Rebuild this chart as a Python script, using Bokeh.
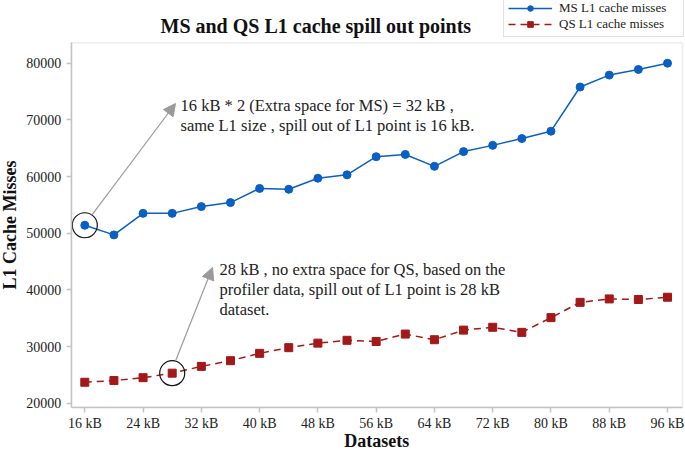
from bokeh.plotting import figure
from bokeh.models import Range1d, FixedTicker, Arrow, NormalHead, Label, BoxAnnotation
from bokeh.embed import file_html
from bokeh.resources import INLINE

# ---------------- data ----------------
datasets_kb = [16, 20, 24, 28, 32, 36, 40, 44, 48, 52, 56, 60, 64, 68, 72, 76, 80, 84, 88, 92, 96]
ms_misses = [51400, 49700, 53500, 53500, 54700, 55400, 57900, 57750, 59700, 60300, 63500, 63900,
             61800, 64400, 65500, 66700, 68000, 75800, 77900, 78900, 80000]
qs_misses = [23700, 24000, 24500, 25300, 26500, 27500, 28800, 29800, 30600, 31100, 30900, 32200,
             31200, 32900, 33400, 32500, 35100, 37800, 38400, 38300, 38700]
x_tick_values = [16, 24, 32, 40, 48, 56, 64, 72, 80, 88, 96]
x_tick_labels = ["16 kB", "24 kB", "32 kB", "40 kB", "48 kB", "56 kB", "64 kB", "72 kB", "80 kB", "88 kB", "96 kB"]
y_tick_values = [20000, 30000, 40000, 50000, 60000, 70000, 80000]

title_text = "MS and QS L1 cache spill out points"
x_label = "Datasets"
y_label = "L1 Cache Misses"
ms_name = "MS L1 cache misses"
qs_name = "QS L1 cache misses"
ms_spill_kb = 16
qs_spill_kb = 28
ms_note = ["16 kB * 2 (Extra space for MS) = 32 kB ,",
           "same L1 size , spill out of L1 point is 16 kB."]
qs_note = ["28 kB , no extra space for QS, based on the",
           "profiler data, spill out of L1 point is 28 kB",
           "dataset."]

# ---------------- layout helpers (pixel position -> data position) ----------------
SERIF = "Liberation Serif"
BLUE = "#0a5fc4"
RED = "#a31818"
GRAY = "#c4c4c4"
ARROW = "#9a9a9a"
TXT = "#222222"

W, H = 685, 452
KB_PX = 7.284        # pixels per kB
Y_PX = 176.47        # misses per pixel


def X(px):
    return 16 + (px - 84.3) / KB_PX


def Y(py):
    return 80000 - (py - 62.7) * Y_PX


box_x0, box_x1 = X(70.7), X(682)
box_y0, box_y1 = Y(406.7), Y(42.3)

p = figure(width=W, height=H, output_backend="svg", toolbar_location=None,
           x_range=Range1d(X(0), X(W)), y_range=Range1d(Y(H), Y(0)),
           min_border_left=0, min_border_right=0, min_border_top=0, min_border_bottom=0)
p.title.visible = False
p.xgrid.grid_line_color = None
p.ygrid.grid_line_color = None
p.outline_line_color = None

# axes drawn at the plot box edges
xa = p.xaxis[0]
ya = p.yaxis[0]
xa.fixed_location = box_y0
ya.fixed_location = box_x0
xa.bounds = (box_x0, box_x1)
ya.bounds = (box_y0, box_y1)
xa.ticker = FixedTicker(ticks=x_tick_values)
xa.major_label_overrides = {v: lab for v, lab in zip(x_tick_values, x_tick_labels)}
ya.ticker = FixedTicker(ticks=y_tick_values)
ya.axis_label = y_label
for ax in (xa, ya):
    ax.axis_line_color = GRAY
    ax.axis_line_width = 1.5
    ax.major_tick_line_color = GRAY
    ax.major_tick_line_width = 1.5
    ax.major_tick_in = 0
    ax.major_tick_out = 5
    ax.minor_tick_line_color = None
    ax.major_label_text_font = SERIF
    ax.major_label_text_font_size = "14px"
    ax.major_label_text_color = TXT
    ax.axis_label_text_font = SERIF
    ax.axis_label_text_font_size = "18px"
    ax.axis_label_text_font_style = "bold"
    ax.axis_label_text_color = "#111111"
xa.major_label_standoff = 4
ya.major_label_standoff = 5
ya.axis_label_standoff = 4

# x axis title (kept inside the canvas)
p.add_layout(Label(x=(box_x0 + box_x1) / 2, y=Y(440), text=x_label,
                   text_font=SERIF, text_font_size="18px", text_font_style="bold",
                   text_color="#111111", text_align="center", text_baseline="middle"))

# plot box outline
p.add_layout(BoxAnnotation(left=box_x0, right=box_x1, bottom=box_y0, top=box_y1,
                           fill_color=None, line_color=GRAY, line_width=1.5, level="underlay"))

# title
p.add_layout(Label(x=X(160), y=Y(25.5), text=title_text,
                   text_font=SERIF, text_font_size="20px", text_font_style="bold",
                   text_color="#111111", text_baseline="middle"))

# series
p.line(datasets_kb, ms_misses, line_color=BLUE, line_width=1.5, legend_label=ms_name)
p.scatter(datasets_kb, ms_misses, marker="circle", size=8, fill_color=BLUE, line_color=BLUE,
          legend_label=ms_name)
p.line(datasets_kb, qs_misses, line_color=RED, line_width=1.5, line_dash="7 5", legend_label=qs_name)
p.scatter(datasets_kb, qs_misses, marker="square", size=8, fill_color=RED, line_color=RED,
          legend_label=qs_name)

# highlighted spill points
ms_spill_y = ms_misses[datasets_kb.index(ms_spill_kb)]
qs_spill_y = qs_misses[datasets_kb.index(qs_spill_kb)]
p.scatter([ms_spill_kb], [ms_spill_y], marker="circle", size=25, fill_color=None,
          line_color="#111111", line_width=1.2)
p.scatter([qs_spill_kb], [qs_spill_y], marker="circle", size=25, fill_color=None,
          line_color="#111111", line_width=1.2)

# arrows
p.add_layout(Arrow(end=NormalHead(size=12, fill_color=ARROW, line_color=ARROW),
                   x_start=X(91.5), y_start=Y(214.4), x_end=X(175), y_end=Y(103),
                   line_color=ARROW, line_width=1.2))
p.add_layout(Arrow(end=NormalHead(size=12, fill_color=ARROW, line_color=ARROW),
                   x_start=X(175.4), y_start=Y(359.5), x_end=X(212), y_end=Y(267),
                   line_color=ARROW, line_width=1.2))

# notes
for i, line in enumerate(ms_note):
    p.add_layout(Label(x=X(180), y=Y(105 + 20 * i), text=line, text_font=SERIF,
                       text_font_size="16.5px", text_baseline="middle", text_color=TXT))
for i, line in enumerate(qs_note):
    p.add_layout(Label(x=X(219), y=Y(269.3 + 20 * i), text=line, text_font=SERIF,
                       text_font_size="16.5px", text_baseline="middle", text_color=TXT))

# legend (top right, above the box)
lg = p.legend[0]
lg.location = (503, H - 37)
lg.border_line_color = GRAY
lg.border_line_width = 1.5
lg.background_fill_color = "white"
lg.background_fill_alpha = 1
lg.label_text_font = SERIF
lg.label_text_font_size = "13px"
lg.label_text_color = TXT
lg.glyph_width = 44
lg.glyph_height = 14
lg.label_height = 14
lg.label_width = 120
lg.label_standoff = 7
lg.spacing = 0
lg.padding = 4
lg.margin = 0

open("out.html", "w").write(file_html(p, INLINE))
